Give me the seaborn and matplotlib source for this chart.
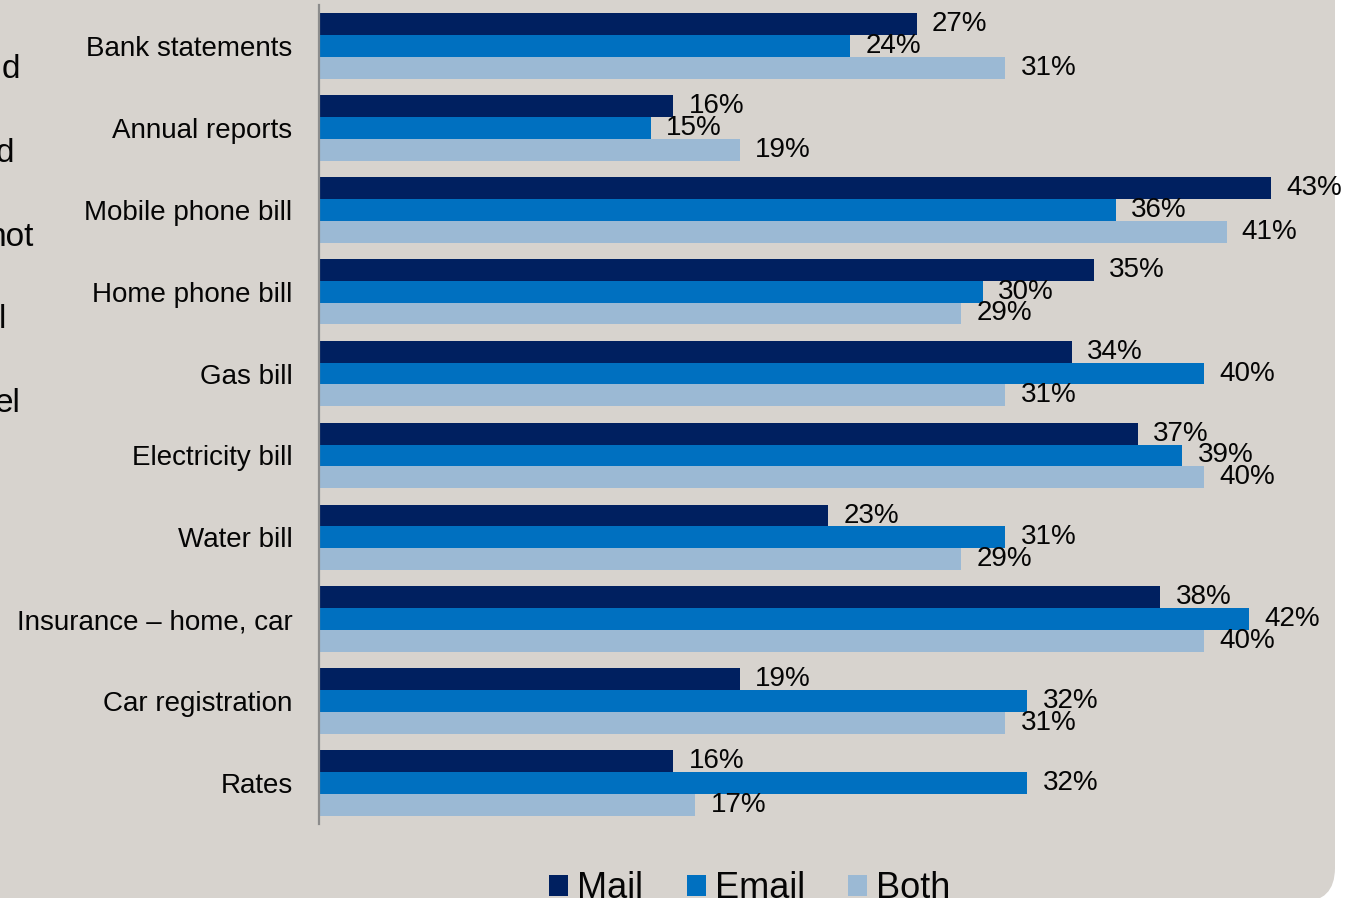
import matplotlib
matplotlib.use("Agg")
import matplotlib.pyplot as plt
from matplotlib.patches import FancyBboxPatch, Patch
import seaborn as sns
import pandas as pd

categories = ["Bank statements", "Annual reports", "Mobile phone bill", "Home phone bill",
              "Gas bill", "Electricity bill", "Water bill", "Insurance \u2013 home, car",
              "Car registration", "Rates"]
mail = [27, 16, 43, 35, 34, 37, 23, 38, 19, 16]
email = [24, 15, 36, 30, 40, 39, 31, 42, 32, 32]
both = [31, 19, 41, 29, 31, 40, 29, 40, 31, 17]
series = ["Mail", "Email", "Both"]
colors = ["#002060", "#0070C0", "#9BB9D4"]
side_fragments = ["d", "d", "not", "l", "el"]

BG = "#D7D3CE"
INK = "#050505"
W, H = 1358, 898

sns.set_theme(style="white")
plt.rcParams["font.family"] = ["Liberation Sans", "DejaVu Sans"]

df = pd.DataFrame({
    "category": categories * 3,
    "value": mail + email + both,
    "channel": [s for s in series for _ in categories],
})

fig = plt.figure(figsize=(W / 100, H / 100), dpi=100, facecolor="white")

# beige panel with a rounded lower-right corner (units: inches)
panel = FancyBboxPatch((-0.6, -0.04), 13.35 + 0.6, 9.6,
                       boxstyle="round,pad=0,rounding_size=0.34",
                       transform=fig.dpi_scale_trans, facecolor=BG, edgecolor="none",
                       zorder=-10)
fig.patches.append(panel)

ax = fig.add_axes([319 / W, 1 - 824 / H, (1335 - 319) / W, (824 - 5) / H])
ax.set_facecolor("none")

sns.barplot(data=df, y="category", x="value", hue="channel", order=categories,
            hue_order=series, palette=colors, orient="h", width=0.8, saturation=1,
            edgecolor="none", linewidth=0, legend=False, ax=ax)

for cont in ax.containers:
    ax.bar_label(cont, labels=[f"{int(v)}%" for v in cont.datavalues],
                 padding=11, fontsize=20, color=INK)

ax.set_xlim(0, 45.9)
ax.set_ylim(9.5, -0.5)
ax.set_xlabel("")
ax.set_ylabel("")
ax.set_xticks([])
ax.tick_params(axis="y", length=0, pad=19, labelsize=20, labelcolor=INK)
for side in ["top", "right", "bottom"]:
    ax.spines[side].set_visible(False)
ax.spines["left"].set_color("#8C8C8C")
ax.spines["left"].set_linewidth(1.6)

handles = [Patch(facecolor=c, edgecolor="none") for c in colors]
leg = fig.legend(handles, series, loc="center", bbox_to_anchor=(750 / W, 1 - 889 / H),
                 ncol=3, frameon=False, fontsize=26, handlelength=0.53, handleheight=0.53,
                 handletextpad=0.25, columnspacing=1.2, borderpad=0)
for t in leg.get_texts():
    t.set_color(INK)

frag_y = [70, 153, 237, 320, 403]
frag_x = [20, 14, 34, 6, 20]
for txt, x, y in zip(side_fragments, frag_x, frag_y):
    fig.text(x / W, 1 - y / H, txt, ha="right", va="center", fontsize=24, color=INK)

fig.savefig("out.png", dpi=100, facecolor="white")
